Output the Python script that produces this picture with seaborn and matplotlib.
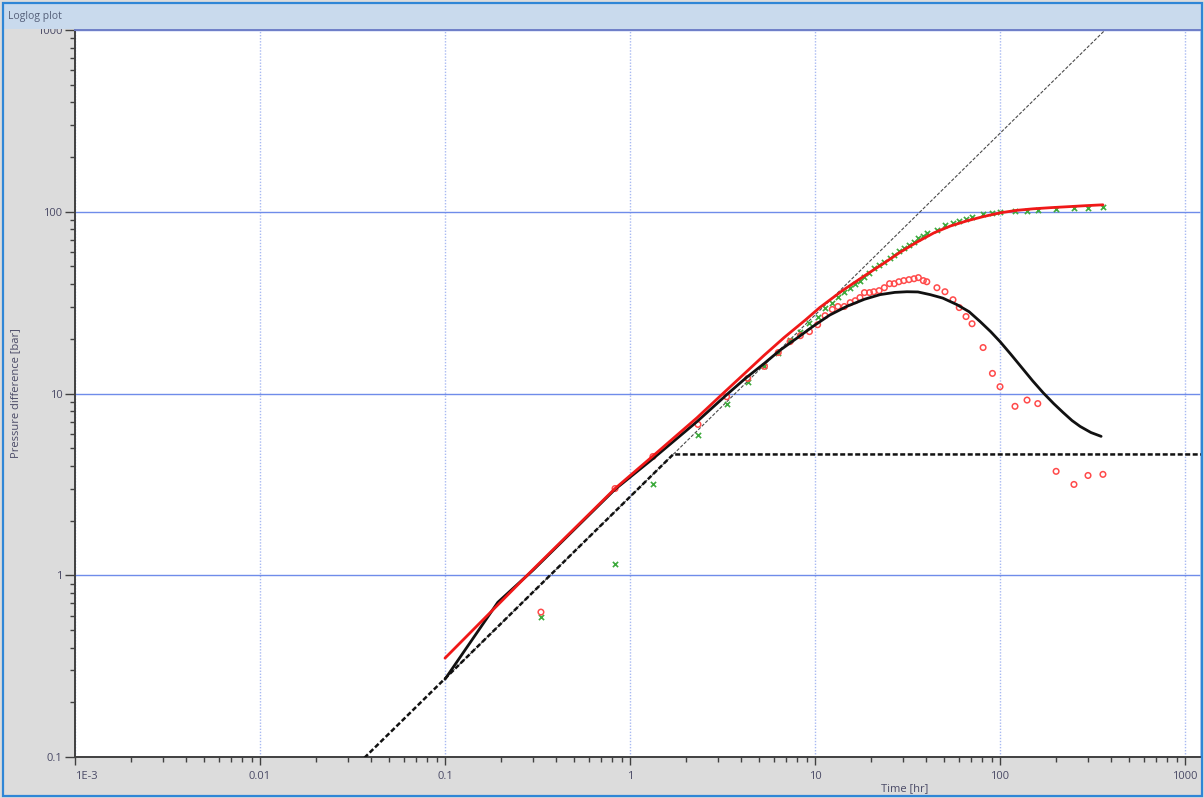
import matplotlib
matplotlib.use("Agg")
import matplotlib.pyplot as plt
import matplotlib.ticker as mticker
from matplotlib.patches import Rectangle
import seaborn as sns

# ---- measured data -------------------------------------------------------
time_hr = [0.33, 0.83, 1.33, 2.33, 3.33, 4.33, 5.33, 6.33, 7.33, 8.33,
           9.33, 10.33, 11.33, 12.4, 13.3, 14.4, 15.5, 16.5, 17.5, 18.5,
           19.7, 20.8, 22.2, 23.7, 25.3, 26.8, 28.4, 30.2, 32.2, 34.3,
           36.2, 38.5, 40.2, 45.6, 50.4, 55.7, 60.2, 65.5, 70.6, 81,
           91, 100, 120.5, 140, 160, 201, 251, 299, 360]
pressure_bar = [0.587, 1.15, 3.16, 5.88, 8.7, 11.6, 14.1, 16.8, 19.6, 21.9,
                24.5, 26.5, 29.7, 31.6, 34.1, 36.3, 38.2, 40.2, 41.8, 43.9,
                46.2, 49.2, 51.1, 53.1, 55.9, 58.0, 61.1, 63.4, 65.9, 68.4,
                72.0, 73.8, 76.7, 79.6, 84.9, 87.1, 89.3, 91.6, 94.0, 97.6,
                98.8, 100, 101.3, 101.3, 102.6, 103.8, 105.1, 105.1, 106.5]
derivative_bar = [0.627, 3.0, 4.5, 6.76, 9.6, 12.1, 14.1, 16.8, 19.3, 20.8,
                  21.9, 23.9, 26.8, 29.0, 30.1, 30.1, 31.6, 32.4, 33.7, 35.9,
                  35.9, 36.3, 36.8, 38.2, 40.2, 40.2, 41.2, 41.8, 42.3, 42.8,
                  43.4, 41.8, 41.2, 38.2, 36.3, 32.8, 29.7, 26.5, 24.2, 17.9,
                  12.9, 10.9, 8.5, 9.2, 8.8, 3.73, 3.16, 3.54, 3.59]

# ---- model response --------------------------------------------------------
model_time = [0.1, 0.3, 0.83, 1.32, 2.3, 3.18, 4.2, 5.3, 6.8, 8.84,
              10.6, 14, 19, 23.5, 28.8, 35.5, 43.9, 54, 66, 81,
              100, 123, 151, 190, 229, 290, 360]
model_pressure = [0.35, 1.08, 3.0, 4.5, 7.35, 10, 13.0, 16.2, 20.3, 25.3,
                  29.7, 36.7, 45.2, 52.0, 59.8, 68.0, 76.5, 83.5, 89.0, 94.0,
                  98.6, 101.8, 103.8, 105.4, 106.5, 108.0, 109.2]
model_deriv_time = [0.1, 0.193, 0.3, 0.83, 1.32, 2.3, 3.35, 4.2, 5.3, 6.47,
                    8.0, 9.75, 12, 14.9, 18.5, 22.5, 27, 31.4, 36, 41.9,
                    49, 58.6, 68, 78, 89, 100, 114, 128, 150, 171,
                    195, 219, 245, 271, 310, 352]
model_derivative = [0.268, 0.71, 1.07, 2.97, 4.35, 7.0, 9.9, 12.1, 14.6, 17.3,
                    20.2, 23.4, 27.0, 30.2, 33.0, 35.0, 36.0, 36.3, 36.2, 35.0,
                    33.5, 30.8, 28.2, 24.9, 21.9, 19.3, 16.5, 14.3, 11.75, 10.1,
                    8.8, 7.87, 7.10, 6.59, 6.1, 5.81]

# wellbore storage unit slope meeting the radial-flow stabilisation
storage_time = [0.03, 1.71, 1300]
storage_level = [0.081, 4.62, 4.62]
# unit-slope guide line
unit_time = [0.1, 370]
unit_level = [0.27, 1000]

x_ticks = [1e-3, 1e-2, 0.1, 1, 10, 100, 1000]
x_labels = ["1E-3", "0.01", "0.1", "1", "10", "100", "1000"]
y_ticks = [0.1, 1, 10, 100, 1000]
y_labels = ["0.1", "1", "10", "100", "1000"]

# ---- styling ---------------------------------------------------------------
sns.set_theme(style="white")
plt.rcParams["font.family"] = ["Open Sans", "DejaVu Sans"]
plt.rcParams["font.size"] = 8

W, H = 1204, 798
fig = plt.figure(figsize=(W / 100, H / 100), dpi=100, facecolor="#DCDCDC")

# window chrome: title strip and frame
fig.patches.append(Rectangle((3 / W, (H - 29) / H), (W - 6) / W, 26 / H,
                             transform=fig.transFigure, facecolor="#C9DAED",
                             edgecolor="none", zorder=0))
fig.patches.append(Rectangle((2.5 / W, 2.5 / H), (W - 5) / W, (H - 5) / H,
                             transform=fig.transFigure, facecolor="none",
                             edgecolor="#2F86D6", linewidth=1.6, zorder=5))
fig.text(8 / W, (H - 17) / H, "Loglog plot", fontsize=7.5, color="#55607A",
         va="center", ha="left")

left, right, top, bottom = 75, 1201, 30, 757
ax = fig.add_axes([left / W, (H - bottom) / H, (right - left) / W, (bottom - top) / H])
ax.set_facecolor("white")

# measured points
sns.scatterplot(x=time_hr, y=pressure_bar, ax=ax, marker="x", color="#3DAA3D",
                s=14, linewidth=1.2, zorder=3)
sns.scatterplot(x=time_hr, y=derivative_bar, ax=ax, marker="o",
                facecolor="none", edgecolor="#FF4A4A", s=16, linewidth=1.1,
                zorder=3)

# model and guide lines
sns.lineplot(x=unit_time, y=unit_level, ax=ax, color="#4A4A4A", linewidth=0.8,
             linestyle=(0, (3, 1.5)), estimator=None, sort=False, zorder=2)
sns.lineplot(x=storage_time, y=storage_level, ax=ax, color="#111111",
             linewidth=1.8, linestyle=(0, (2.0, 1.0)), estimator=None,
             sort=False, zorder=4)
sns.lineplot(x=model_deriv_time, y=model_derivative, ax=ax, color="#111111",
             linewidth=2.0, estimator=None, sort=False, zorder=4)
sns.lineplot(x=model_time, y=model_pressure, ax=ax, color="#F01818",
             linewidth=2.0, estimator=None, sort=False, zorder=4)

ax.set_xscale("log")
ax.set_yscale("log")
ax.set_xlim(1e-3, 1220)
ax.set_ylim(0.1, 1000)

ax.xaxis.set_major_locator(mticker.FixedLocator(x_ticks))
ax.xaxis.set_major_formatter(mticker.FixedFormatter(x_labels))
ax.yaxis.set_major_locator(mticker.FixedLocator(y_ticks))
ax.yaxis.set_major_formatter(mticker.FixedFormatter(y_labels))
ax.xaxis.set_minor_locator(mticker.LogLocator(base=10, subs=range(2, 10), numticks=20))
ax.yaxis.set_minor_locator(mticker.LogLocator(base=10, subs=range(2, 10), numticks=20))
ax.xaxis.set_minor_formatter(mticker.NullFormatter())
ax.yaxis.set_minor_formatter(mticker.NullFormatter())

ax.tick_params(axis="x", which="major", direction="out", length=6, width=1,
               color="#404040", labelcolor="#4A4A66", labelsize=8, pad=4,
               bottom=True)
ax.tick_params(axis="x", which="minor", direction="out", length=3.5, width=1,
               color="#404040", bottom=True)
ax.tick_params(axis="y", which="major", direction="out", length=7, width=1,
               color="#404040", labelcolor="#4A4A66", labelsize=8, pad=2,
               left=True)
ax.tick_params(axis="y", which="minor", direction="out", length=3.5, width=1,
               color="#404040", left=True)
for lbl in ax.get_xticklabels():
    if lbl.get_text() == "1E-3":
        lbl.set_horizontalalignment("left")

ax.set_axisbelow(True)
ax.grid(True, which="major", axis="y", color="#6F8CEA", linewidth=1.0,
        linestyle="-")
ax.grid(True, which="major", axis="x", color="#A8B9F2", linewidth=1.0,
        linestyle=(0, (1, 1.2)))

for side, col, lw in [("left", "#404040", 1.4), ("bottom", "#404040", 1.4),
                      ("top", "#6F7FC8", 1.4), ("right", "#A9C6E6", 1.2)]:
    ax.spines[side].set_visible(True)
    ax.spines[side].set_color(col)
    ax.spines[side].set_linewidth(lw)

ax.set_xlabel("Time [hr]", fontsize=8, color="#4A4A66")
ax.xaxis.set_label_coords((905 - left) / (right - left), -26 / (bottom - top))
ax.xaxis.label.set_verticalalignment("top")
ax.set_ylabel("Pressure difference [bar]", fontsize=8, color="#4A4A66")
ax.yaxis.set_label_coords((21 - left) / (right - left), 0.5)

fig.savefig("out.png", dpi=100, facecolor=fig.get_facecolor())
